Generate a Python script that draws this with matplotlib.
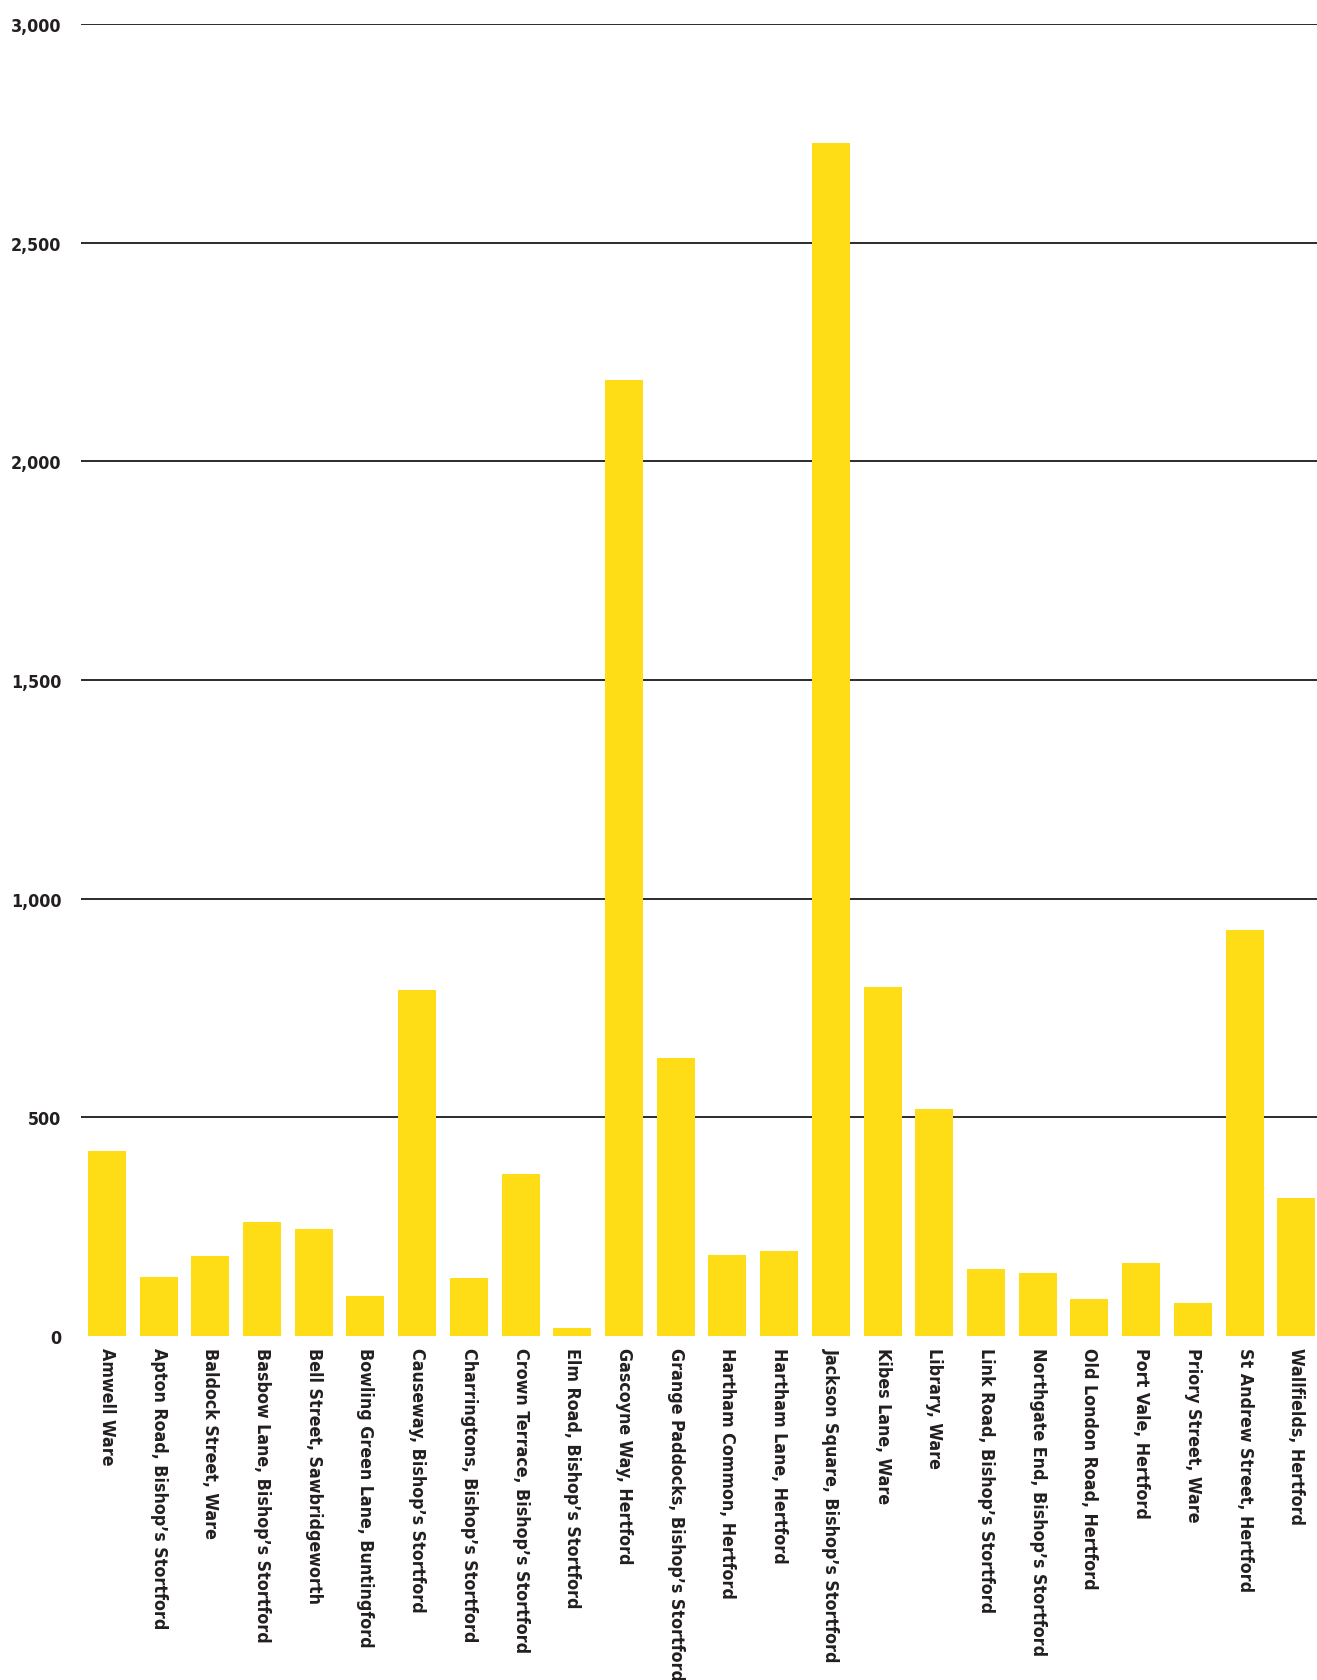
import os
import matplotlib
matplotlib.use("Agg")
import matplotlib.pyplot as plt
from matplotlib import font_manager as fm
from matplotlib.ticker import FuncFormatter

sites = [
    "Amwell Ware", "Apton Road, Bishop’s Stortford", "Baldock Street, Ware",
    "Basbow Lane, Bishop’s Stortford", "Bell Street, Sawbridgeworth",
    "Bowling Green Lane, Buntingford", "Causeway, Bishop’s Stortford",
    "Charringtons, Bishop’s Stortford", "Crown Terrace, Bishop’s Stortford",
    "Elm Road, Bishop’s Stortford", "Gascoyne Way, Hertford",
    "Grange Paddocks, Bishop’s Stortford", "Hartham Common, Hertford",
    "Hartham Lane, Hertford", "Jackson Square, Bishop’s Stortford",
    "Kibes Lane, Ware", "Library, Ware", "Link Road, Bishop’s Stortford",
    "Northgate End, Bishop’s Stortford", "Old London Road, Hertford",
    "Port Vale, Hertford", "Priory Street, Ware", "St Andrew Street, Hertford",
    "Wallfields, Hertford",
]
values = [423, 135, 184, 261, 245, 92, 792, 132, 371, 19, 2186, 636,
          186, 194, 2728, 799, 520, 154, 145, 85, 168, 76, 929, 316]
yticks = [0, 500, 1000, 1500, 2000, 2500, 3000]

text_col = "#231F20"

# the original uses a bold condensed face; pick whatever condensed bold is on the box
wanted = ["notosans-condensedbold", "opensans-condensedbold", "opensanscondensed-bold",
          "liberationsansnarrow-bold.", "dejavusanscondensed-bold.", "robotocondensed-bold."]
files = {os.path.basename(f.fname).lower(): f.fname for f in fm.fontManager.ttflist}
font_file = None
for w in wanted:
    hits = [k for k in files if k.startswith(w)]
    if hits:
        font_file = files[sorted(hits)[0]]
        break
if font_file:
    lab_font = fm.FontProperties(fname=font_file, size=12.8)
else:
    lab_font = fm.FontProperties(family="DejaVu Sans", weight="bold", size=11)

fig = plt.figure(figsize=(13.17, 16.81), dpi=100)
ax = fig.add_axes([81 / 1317, 1 - 1337 / 1681, 1 - 81 / 1317, (1337 - 25) / 1681])

x = range(len(sites))
ax.bar(x, values, width=0.735, color="#FEDD17", zorder=2)

ax.set_ylim(0, 3000)
ax.set_xlim(-0.5, 23.4)
ax.set_yticks(yticks)
ax.yaxis.set_major_formatter(FuncFormatter(lambda v, p: f"{int(v):,}"))
ax.set_xticks(list(x))
ax.set_xticklabels(sites, rotation=270, ha="center", va="top")

ax.grid(axis="y", color="#2b2b2b", linewidth=1.4, zorder=1)
ax.set_axisbelow(True)
ax.yaxis.get_gridlines()[0].set_visible(False)

for s in ax.spines.values():
    s.set_visible(False)
ax.tick_params(axis="both", length=0, colors=text_col)
ax.tick_params(axis="y", pad=14)
ax.tick_params(axis="x", pad=8)
for lab in ax.get_xticklabels() + ax.get_yticklabels():
    lab.set_fontproperties(lab_font)

fig.savefig("out.png", dpi=100, facecolor="white")
